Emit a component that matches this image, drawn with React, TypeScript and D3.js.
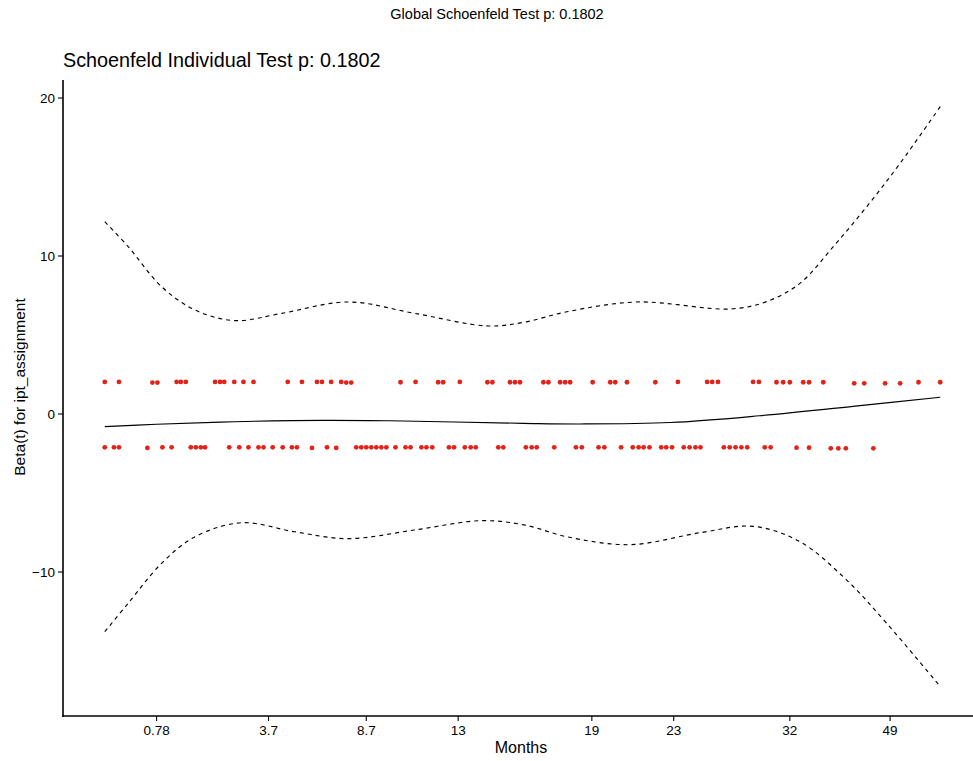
import React from "react";
import * as d3 from "d3";

const W = 973;
const H = 761;
const PANEL = { left: 63, right: 982, top: 80, bottom: 716 };

// Time axis is shown on a transformed scale (0–100), labelled in months
const xTickPos = [6.2, 19.6, 31.3, 42.3, 58.3, 68.1, 82.0, 94.0];
const xTickLabels = ["0.78", "3.7", "8.7", "13", "19", "23", "32", "49"];
const yTicks = [-10, 0, 10, 20];

// Scaled Schoenfeld residuals, positive group
const posTimes = [
  0, 1.7, 5.7, 6.3, 8.6, 9.1, 9.7, 13.2, 13.8, 14.3, 15.5, 16.6, 17.8, 21.9, 23.6,
  25.4, 26.0, 27.1, 28.3, 28.9, 29.5, 35.4, 37.2, 39.9, 40.5, 42.5, 45.8, 46.4, 48.5,
  49.1, 49.7, 52.5, 53.1, 54.5, 55.1, 55.7, 58.4, 60.5, 61.1, 62.5, 65.9, 68.6, 72.1,
  72.7, 73.4, 77.6, 78.3, 80.4, 81.2, 82.0, 83.6, 84.3, 86.0, 89.7, 90.9, 93.4, 95.2,
  97.4, 100,
];
const posResid = [
  2.03, 2.03, 1.99, 1.99, 2.03, 2.03, 2.03, 2.03, 2.03, 2.03, 2.03, 2.03, 2.03, 2.03, 2.03,
  2.03, 2.03, 2.03, 2.03, 1.99, 1.99, 2.01, 2.03, 2.01, 2.01, 2.03, 2.01, 2.01, 2.01,
  2.01, 2.01, 2.01, 2.01, 2.01, 2.01, 2.01, 2.01, 2.01, 2.01, 2.01, 2.01, 2.03, 2.03,
  2.03, 2.03, 2.03, 2.03, 2.01, 2.01, 2.01, 2.01, 2.01, 2.01, 1.94, 1.94, 1.94, 1.94,
  2.01, 2.01,
];

// Scaled Schoenfeld residuals, negative group
const negTimes = [
  0, 1.1, 1.7, 5.1, 6.9, 8.0, 10.3, 10.9, 11.5, 12.0, 14.9, 16.1, 17.2, 18.4, 19.0,
  20.1, 21.3, 22.4, 23.0, 24.8, 26.6, 27.7, 30.1, 30.7, 31.3, 31.9, 32.5, 33.1, 33.7,
  34.8, 36.0, 36.6, 37.9, 38.5, 39.2, 41.2, 41.8, 43.1, 43.8, 44.4, 47.1, 47.7, 50.4,
  51.1, 51.7, 53.8, 56.4, 57.1, 59.1, 59.8, 61.8, 63.2, 63.9, 64.5, 65.2, 66.6, 67.2,
  67.9, 69.3, 70.0, 70.7, 71.3, 74.1, 74.8, 75.5, 76.2, 76.9, 79.0, 79.7, 82.8, 84.3,
  86.9, 87.8, 88.7, 92.0,
];
const negResid = [
  -2.11, -2.11, -2.11, -2.15, -2.11, -2.11, -2.11, -2.11, -2.11, -2.11, -2.11, -2.11, -2.11, -2.11, -2.11,
  -2.11, -2.11, -2.11, -2.11, -2.15, -2.11, -2.15, -2.11, -2.11, -2.11, -2.11, -2.11, -2.11, -2.11,
  -2.11, -2.11, -2.11, -2.11, -2.11, -2.11, -2.11, -2.11, -2.11, -2.11, -2.11, -2.11, -2.11, -2.11,
  -2.11, -2.11, -2.11, -2.11, -2.11, -2.11, -2.11, -2.11, -2.11, -2.11, -2.11, -2.11, -2.11, -2.11,
  -2.11, -2.11, -2.11, -2.11, -2.11, -2.11, -2.11, -2.11, -2.11, -2.11, -2.11, -2.11, -2.13, -2.13,
  -2.17, -2.17, -2.17, -2.17,
];

// Smoothed beta(t) and its confidence band
const fitTimes = [0, 6.2, 15.5, 26.1, 34.1, 50.1, 56.9, 67.7, 78.4, 90.4, 100];
const fitBeta = [-0.8, -0.65, -0.49, -0.4, -0.43, -0.59, -0.63, -0.54, -0.11, 0.53, 1.06];

const upperTimes = [0, 2.8, 6.8, 10.8, 15.6, 21.2, 29.1, 37.1, 45.9, 50.3, 55.3, 63.7, 74.9, 79.2, 83.2, 87.2, 91.2, 95.2, 100];
const upperBeta = [12.17, 10.59, 8.06, 6.58, 5.91, 6.37, 7.09, 6.37, 5.57, 5.82, 6.47, 7.09, 6.65, 7.11, 8.27, 10.59, 13.12, 15.87, 19.45];

const lowerTimes = [0, 2.8, 6.8, 10.8, 16.4, 22.7, 29.1, 37.1, 45.1, 50.3, 55.3, 62.9, 71.3, 77.6, 83.2, 88.8, 93.6, 100];
const lowerBeta = [-13.78, -11.98, -9.45, -7.77, -6.88, -7.45, -7.89, -7.34, -6.75, -7.03, -7.77, -8.27, -7.51, -7.11, -8.08, -10.51, -13.25, -17.25];

const FONT = "'Liberation Sans', Arial, Helvetica, sans-serif";
const RED = "#e2231a";

export default function App() {
  const x = d3.scaleLinear().domain([-5, 105]).range([PANEL.left, PANEL.right]);
  const y = d3.scaleLinear().domain([-10, 20]).range([572, 98]);

  const line = (xs: number[], ys: number[]) =>
    d3
      .line<number>()
      .x((_, i) => x(xs[i]))
      .y((d) => y(d))
      .curve(d3.curveCatmullRom.alpha(0.5))(ys) || "";

  return (
    <svg
      width={W}
      height={H}
      style={{ position: "absolute", left: 0, top: 0, background: "#fff" }}
      fontFamily={FONT}
    >
      <text x={497} y={19} fontSize={14.5} textAnchor="middle" fill="#000">
        Global Schoenfeld Test p: 0.1802
      </text>
      <text x={PANEL.left} y={67} fontSize={19.8} fill="#000">
        Schoenfeld Individual Test p: 0.1802
      </text>

      {/* band and fit */}
      <path d={line(upperTimes, upperBeta)} fill="none" stroke="#000" strokeWidth={1.15} strokeDasharray="4,4" />
      <path d={line(lowerTimes, lowerBeta)} fill="none" stroke="#000" strokeWidth={1.15} strokeDasharray="4,4" />
      <path d={line(fitTimes, fitBeta)} fill="none" stroke="#000" strokeWidth={1.15} />

      {/* residual points */}
      {posTimes.map((t, i) => (
        <circle key={"p" + i} cx={x(t)} cy={y(posResid[i])} r={2.4} fill={RED} />
      ))}
      {negTimes.map((t, i) => (
        <circle key={"n" + i} cx={x(t)} cy={y(negResid[i])} r={2.4} fill={RED} />
      ))}

      {/* y axis */}
      <line x1={PANEL.left} x2={PANEL.left} y1={PANEL.top} y2={PANEL.bottom + 1} stroke="#000" strokeWidth={1.6} />
      {yTicks.map((t) => (
        <g key={"yt" + t}>
          <line x1={PANEL.left - 5} x2={PANEL.left} y1={y(t)} y2={y(t)} stroke="#000" strokeWidth={1.1} />
          <text x={PANEL.left - 8} y={y(t)} dy="0.35em" fontSize={13.5} textAnchor="end" fill="#000">
            {t < 0 ? "\u2212" + Math.abs(t) : t}
          </text>
        </g>
      ))}

      {/* x axis */}
      <line x1={PANEL.left - 0.8} x2={W} y1={PANEL.bottom} y2={PANEL.bottom} stroke="#000" strokeWidth={1.6} />
      {xTickPos.map((t, i) => (
        <g key={"xt" + i}>
          <line x1={x(t)} x2={x(t)} y1={PANEL.bottom} y2={PANEL.bottom + 5} stroke="#000" strokeWidth={1.1} />
          <text x={x(t)} y={PANEL.bottom + 19} fontSize={13.5} textAnchor="middle" fill="#000">
            {xTickLabels[i]}
          </text>
        </g>
      ))}

      <text x={521} y={753} fontSize={16} textAnchor="middle" fill="#000">
        Months
      </text>
      <text
        transform={`translate(25, 387) rotate(-90)`}
        fontSize={15.5}
        textAnchor="middle"
        fill="#000"
      >
        Beta(t) for ipt_assignment
      </text>
    </svg>
  );
}
